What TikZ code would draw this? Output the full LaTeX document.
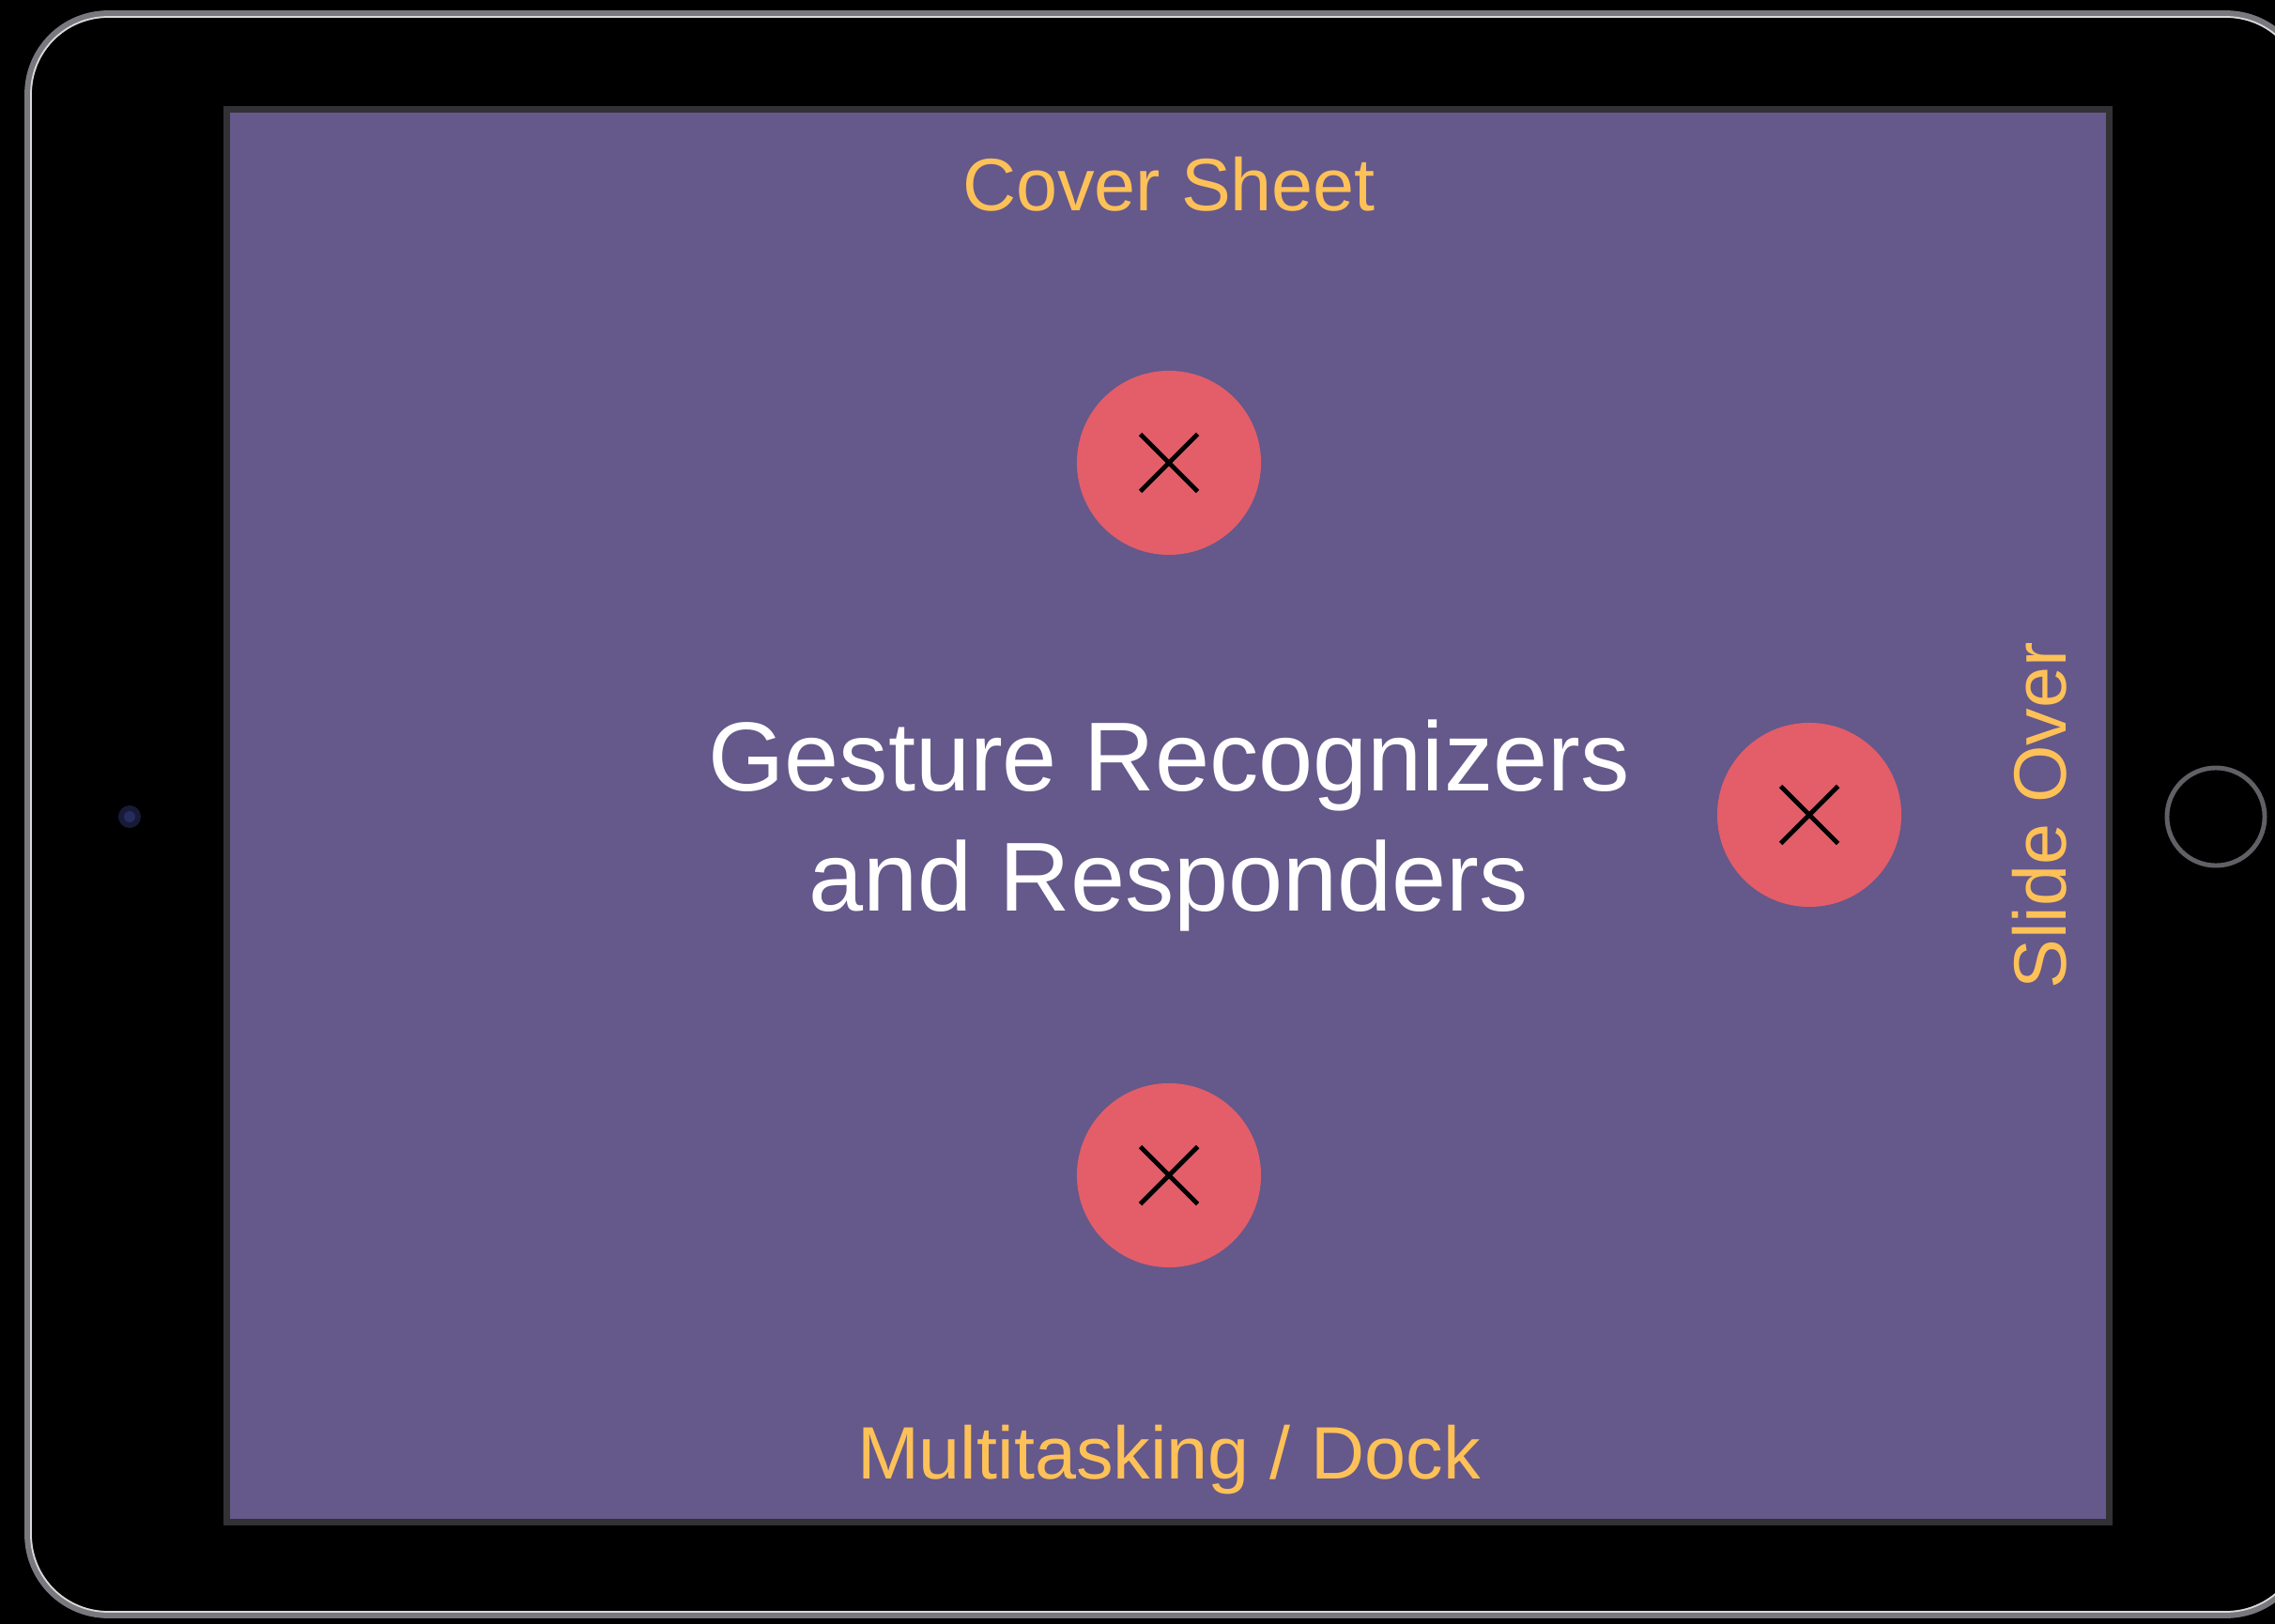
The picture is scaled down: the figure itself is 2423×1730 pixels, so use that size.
\documentclass[tikz,border=0pt]{standalone}
\usepackage{fontspec}
\setmainfont{Liberation Sans}

\definecolor{screenpurple}{RGB}{101,88,138}
\definecolor{btnred}{RGB}{227,94,105}
\definecolor{labelorange}{RGB}{253,193,88}
\definecolor{bezel}{RGB}{50,50,52}
\definecolor{rim}{RGB}{120,120,126}
\definecolor{lens}{RGB}{38,44,92}

\begin{document}
\begin{tikzpicture}[x=0.01cm,y=-0.01cm,
    closebtn/.style={circle,fill=btnred,minimum size=1.96cm,inner sep=0pt,
      path picture={\draw[black,line width=1.4pt]
        (path picture bounding box.center) ++(-30.5,-30.5) -- ++(61,61)
        (path picture bounding box.center) ++(-30.5,30.5) -- ++(61,-61);}},
    edgelabel/.style={text=labelorange,font=\fontsize{22.5}{27}\selectfont,inner sep=0pt,anchor=base}]
  \useasboundingbox (0,0) rectangle (2423,1730);
  \clip (0,0) rectangle (2423,1730);
  \fill[black] (0,0) rectangle (2423,1730);

  % device body with its metal rim
  \draw[rim,line width=2.2pt,rounded corners=0.85cm] (30,15) rectangle (2456,1720);
  \draw[white!70!gray,line width=0.5pt,rounded corners=0.82cm] (33,18) rectangle (2453,1717);

  % screen
  \fill[bezel] (238,113) rectangle (2250,1625);
  \fill[screenpurple] (245,120) rectangle (2243,1618);

  % camera and home button
  \fill[lens!60!black] (138,870) circle (0.12cm);
  \fill[lens] (138,870) circle (0.06cm);
  \draw[rim!80!black,line width=1.4pt] (2360,870) circle (0.52cm);

  % close buttons at the three edges
  \node[closebtn] (topbtn) at (1245,493) {};
  \node[closebtn] (sidebtn) at (1927,868) {};
  \node[closebtn] (bottombtn) at (1245,1252) {};

  % edge labels
  \node[edgelabel] (cover) at (1245,224) {Cover Sheet};
  \node[edgelabel] (dock) at (1245,1575) {Multitasking / Dock};
  \node[edgelabel,rotate=90] (slide) at (2200,869) {Slide Over};

  % base sits on the second line
  \node[text=white,font=\fontsize{29.7}{36.4}\selectfont,align=center,anchor=base,inner sep=0pt]
    (title) at (1245,970) {Gesture Recognizers\\and Responders};
\end{tikzpicture}
\end{document}
